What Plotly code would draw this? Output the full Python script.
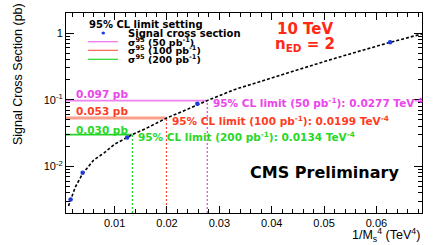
import math
import plotly.graph_objects as go

# ---- data ----
sig_x = [0.0016, 0.0039, 0.0124, 0.0258, 0.0626]          # 1/Ms^4 (TeV^-4)
sig_y = [0.0032, 0.0080, 0.0272, 0.087, 0.73]             # signal cross section (pb)

fit_x = [0.0012, 0.0016, 0.0025, 0.0039, 0.0060, 0.0080, 0.0100, 0.0124, 0.0134,
         0.0160, 0.0199, 0.0240, 0.0277, 0.0330, 0.0400, 0.0455, 0.0500, 0.0551,
         0.0600, 0.0627, 0.0687]
fit_y = [0.00255, 0.0032, 0.0049, 0.0078, 0.0124, 0.0160, 0.0215, 0.0272, 0.0300,
         0.0371, 0.0530, 0.0723, 0.0970, 0.1430, 0.2140, 0.2920, 0.3730, 0.4910,
         0.6370, 0.7300, 0.9700]

lumi_labels = ["50", "100", "200"]
limit_x = [0.0277, 0.0199, 0.0134]        # TeV^-4
limit_sigma = [0.097, 0.053, 0.030]       # pb

x_tickvals = [0.01, 0.02, 0.03, 0.04, 0.05, 0.06]
x_ticktext = ["0.01", "0.02", "0.03", "0.04", "0.05", "0.06"]
y_tickvals = [0.01, 0.1, 1]
y_ticktext = ["10<sup>-2</sup>", "10<sup>-1</sup>", "1"]

x_range = [0.00072, 0.0687]
y_range = [0.002, 2.0]

# ---- styles ----
line_cols = ["rgb(240,130,240)", "rgb(250,160,140)", "rgb(40,210,40)"]
line_widths = [1.6, 3, 1.6]
vline_cols = ["rgb(235,60,235)", "rgb(250,70,50)", "rgb(40,215,40)"]
text_cols = ["rgb(235,70,235)", "rgb(255,60,35)", "rgb(40,215,40)"]
leg_cols = ["rgb(240,110,240)", "rgb(250,100,80)", "rgb(40,215,40)"]
BOLD = "DejaVu Sans"
REG = "Liberation Sans"

fig = go.Figure()

for i in range(3):
    fig.add_trace(go.Scatter(x=[x_range[0], limit_x[i]], y=[limit_sigma[i], limit_sigma[i]],
                             mode="lines", line=dict(color=line_cols[i], width=line_widths[i]),
                             showlegend=False, hoverinfo="skip"))
    fig.add_trace(go.Scatter(x=[limit_x[i], limit_x[i]], y=[y_range[0], limit_sigma[i]],
                             mode="lines", line=dict(color=vline_cols[i], width=1.2, dash="2px,2px"),
                             showlegend=False, hoverinfo="skip"))

fig.add_trace(go.Scatter(x=fit_x, y=fit_y, mode="lines",
                         line=dict(color="black", width=1.6, dash="3px,2px"),
                         showlegend=False))
fig.add_trace(go.Scatter(x=sig_x, y=sig_y, mode="markers",
                         marker=dict(color="rgb(30,60,220)", size=4.5),
                         showlegend=False))

ann = []
# value labels near horizontal lines (log axis -> annotation y in log10 units)
for i in range(3):
    ly = math.log10(limit_sigma[i])
    ann.append(dict(x=0.0023, y=ly, xref="x", yref="y", xanchor="left", yanchor="middle",
                    yshift=7 if i < 2 else 5, showarrow=False,
                    text="{:.3f} pb".format(limit_sigma[i]),
                    font=dict(family=BOLD, size=10.5, color=text_cols[i], weight="bold")))
    ann.append(dict(x=limit_x[i], y=ly, xref="x", yref="y", xanchor="left", yanchor="middle",
                    xshift=4, yshift=-2, showarrow=False,
                    text="95% CL limit ({} pb<sup>-1</sup>): {:.4f} TeV<sup>-4</sup>".format(lumi_labels[i], limit_x[i]),
                    font=dict(family=BOLD, size=10.5, color=text_cols[i], weight="bold")))

def xp(px):
    return (px - 66) / 356.0

def yp(py):
    return (213 - py) / 200.0

# legend
ann.append(dict(x=xp(87), y=yp(24), xref="paper", yref="paper", xanchor="left", yanchor="middle",
                showarrow=False, text="95% CL limit setting",
                font=dict(family=BOLD, size=10, color="black", weight="bold")))
ann.append(dict(x=xp(126), y=yp(33), xref="paper", yref="paper", xanchor="left", yanchor="middle",
                showarrow=False, text="Signal cross section",
                font=dict(family=BOLD, size=10, color="black", weight="bold")))
leg_y = [41.7, 50.3, 59.3]
shapes = [dict(type="circle", xref="paper", yref="paper", x0=xp(101.5), x1=xp(105), y0=yp(34.5), y1=yp(31.5),
               fillcolor="rgb(30,60,220)", line=dict(width=0))]
for i in range(3):
    shapes.append(dict(type="line", xref="paper", yref="paper", x0=xp(88), x1=xp(118),
                       y0=yp(leg_y[i]), y1=yp(leg_y[i]), line=dict(color=leg_cols[i], width=1.2)))
    ann.append(dict(x=xp(126), y=yp(leg_y[i]), xref="paper", yref="paper", xanchor="left", yanchor="middle",
                    showarrow=False, text="σ<sup>95</sup> ({} pb<sup>-1</sup>)".format(lumi_labels[i]),
                    font=dict(family=BOLD, size=9.5, color="black", weight="bold")))

ann.append(dict(x=xp(305), y=yp(29), xref="paper", yref="paper", xanchor="center", yanchor="middle",
                showarrow=False, text="10 TeV",
                font=dict(family=BOLD, size=15, color="rgb(255,40,20)", weight="bold")))
ann.append(dict(x=xp(305), y=yp(44), xref="paper", yref="paper", xanchor="center", yanchor="middle",
                showarrow=False, text="n<sub>ED</sub> = 2",
                font=dict(family=BOLD, size=15, color="rgb(255,40,20)", weight="bold")))
ann.append(dict(x=xp(324.5), y=yp(172.5), xref="paper", yref="paper", xanchor="center", yanchor="middle",
                showarrow=False, text="CMS Preliminary",
                font=dict(family=BOLD, size=16, color="black", weight="bold")))
# axis titles
ann.append(dict(x=xp(18), y=yp(74), xref="paper", yref="paper", xanchor="center", yanchor="middle",
                showarrow=False, textangle=-90,
                text="Signal Cross Section (pb)",
                font=dict(family=REG, size=12.5, color="black")))
ann.append(dict(x=1.0, y=yp(235), xref="paper", yref="paper", xanchor="right", yanchor="middle", showarrow=False,
                text="1/M<sub>s</sub><sup>4</sup> (TeV<sup>4</sup>)",
                font=dict(family=REG, size=12.5, color="black")))

axis_common = dict(showline=True, linecolor="black", linewidth=1, mirror="ticks", ticks="inside",
                   showgrid=False, zeroline=False, tickcolor="black",
                   tickfont=dict(family=REG, size=11, color="black"))

fig.update_layout(
    width=436, height=245,
    margin=dict(l=66, r=14, t=13, b=32),
    paper_bgcolor="white", plot_bgcolor="white",
    showlegend=False,
    annotations=ann, shapes=shapes,
    xaxis=dict(range=x_range, tickmode="array", tickvals=x_tickvals, ticktext=x_ticktext, ticklen=7,
               minor=dict(ticks="inside", dtick=0.002, tick0=0, ticklen=4, tickcolor="black"),
               **axis_common),
    yaxis=dict(type="log", range=[-2.699, 0.301], tickmode="array", tickvals=y_tickvals, ticktext=y_ticktext,
               ticklen=8, minor=dict(ticks="inside", dtick="D1", ticklen=4, tickcolor="black"),
               **axis_common),
)

fig.write_html("out.html", config={"displayModeBar": False},
               post_script="document.body.style.margin='0px';")
